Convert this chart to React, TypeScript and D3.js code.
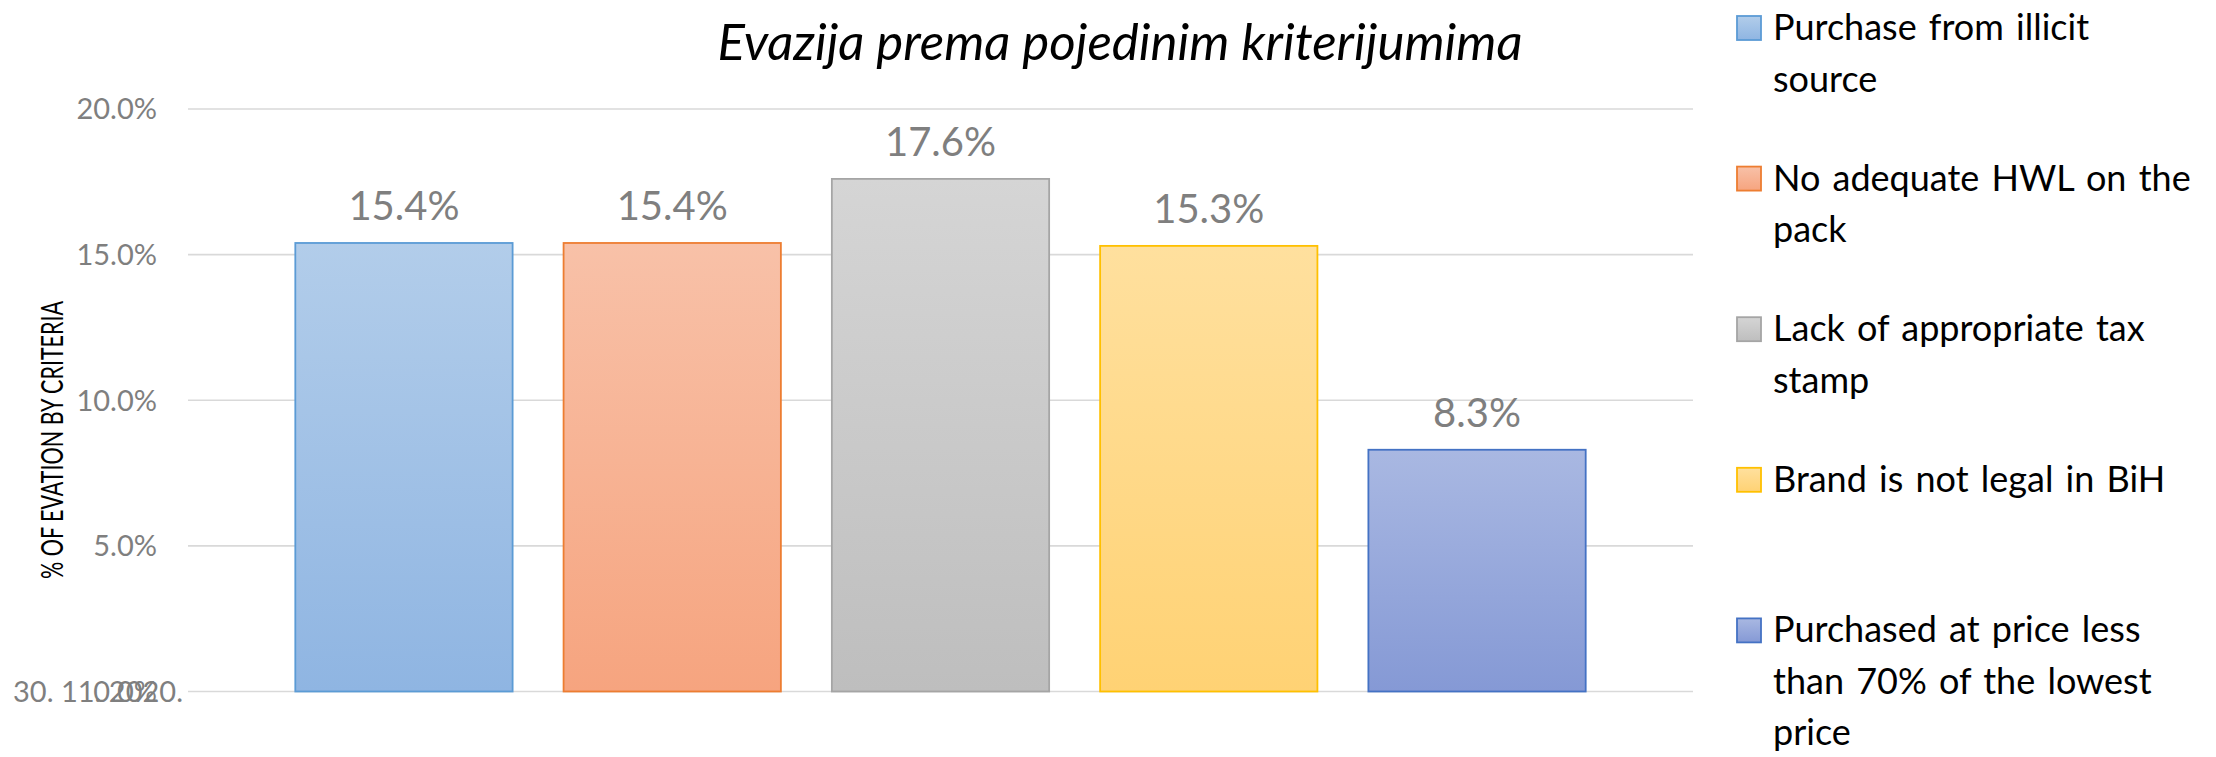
import React from "react";
import * as d3 from "d3";

const categories = [
  "Purchase from illicit source",
  "No adequate HWL on the pack",
  "Lack of appropriate tax stamp",
  "Brand is not legal in BiH",
  "Purchased at price less than 70% of the lowest price",
];
const values = [15.4, 15.4, 17.6, 15.3, 8.3];
const legendLines = [
  ["Purchase from illicit", "source"],
  ["No adequate HWL on the", "pack"],
  ["Lack of appropriate tax", "stamp"],
  ["Brand is not legal in BiH"],
  ["Purchased at price less", "than 70% of the lowest", "price"],
];
const yTicks = [5, 10, 15, 20];
const title = "Evazija prema pojedinim kriterijumima";
const yTitle = "% OF EVATION BY CRITERIA";
const zeroLabel = "0.0%";
const dateLabel = "30. 11. 2020.";

const strokes = ["#5b9bd5", "#ed7d31", "#a5a5a5", "#ffc000", "#4472c4"];
const topFill = ["#b2cdea", "#f8c1a8", "#d5d5d5", "#ffe09e", "#a9b8e2"];
const botFill = ["#8fb5e2", "#f6a47f", "#bebebe", "#ffd274", "#8599d5"];

const W = 2216;
const H = 757;
const FONT = "Lato, 'Open Sans', sans-serif";

export default function App() {
  const plotL = 188;
  const plotR = 1693;
  const y0 = 691.5;
  const yTop = 109;

  const x = d3
    .scaleBand<string>()
    .domain(categories)
    .range([plotL, plotR])
    .paddingInner(0.19)
    .paddingOuter(0.4);
  const y = d3.scaleLinear().domain([0, 20]).range([y0, yTop]);
  const fmt = d3.format(".1f");

  const legX = 1737;
  const legBase0 = 40;
  const legStep = 150.6;
  const legLine = 51.5;

  return (
    <svg
      width={W}
      height={H}
      style={{ position: "absolute", left: 0, top: 0, background: "#fff" }}
      fontFamily={FONT}
    >
      <defs>
        {categories.map((c, i) => (
          <linearGradient key={c} id={`g${i}`} x1="0" y1="0" x2="0" y2="1">
            <stop offset="0%" stopColor={topFill[i]} />
            <stop offset="100%" stopColor={botFill[i]} />
          </linearGradient>
        ))}
      </defs>
      <rect x={0} y={0} width={W} height={H} fill="#fff" />

      {/* title */}
      <text
        x={1120}
        y={60}
        textAnchor="middle"
        fontSize={51}
        fontStyle="italic"
        fontWeight={400}
        fill="#000"
      >
        {title}
      </text>

      {/* gridlines */}
      {[0, ...yTicks].map((t) => (
        <line
          key={t}
          x1={plotL}
          x2={plotR}
          y1={y(t)}
          y2={y(t)}
          stroke="#d9d9d9"
          strokeWidth={1.6}
        />
      ))}

      {/* tick labels */}
      {yTicks.map((t) => (
        <text
          key={t}
          x={157}
          y={y(t)}
          dy="0.36em"
          textAnchor="end"
          fontSize={29}
          fill="#7f7f7f"
        >
          {fmt(t) + "%"}
        </text>
      ))}
      <text x={183} y={y(0)} dy="0.36em" textAnchor="end" fontSize={29} fill="#7f7f7f">
        {dateLabel}
      </text>
      <text x={157} y={y(0)} dy="0.36em" textAnchor="end" fontSize={29} fill="#7f7f7f">
        {zeroLabel}
      </text>

      {/* y title */}
      <text
        transform={`translate(63,440) rotate(-90)`}
        textAnchor="middle"
        fontSize={30}
        fill="#000"
        textLength={278}
        lengthAdjust="spacingAndGlyphs"
      >
        {yTitle}
      </text>

      {/* bars */}
      {categories.map((c, i) => (
        <g key={c}>
          <rect
            x={x(c)!}
            y={y(values[i])}
            width={x.bandwidth()}
            height={y0 - y(values[i])}
            fill={`url(#g${i})`}
            stroke={strokes[i]}
            strokeWidth={1.8}
          />
          <text
            x={x(c)! + x.bandwidth() / 2}
            y={y(values[i]) - 23}
            textAnchor="middle"
            fontSize={40}
            fill="#7f7f7f"
          >
            {fmt(values[i]) + "%"}
          </text>
        </g>
      ))}

      {/* legend */}
      {legendLines.map((lines, i) => {
        const base = legBase0 + i * legStep;
        return (
          <g key={i}>
            <rect
              x={legX}
              y={base - 24}
              width={24}
              height={24}
              fill={`url(#g${i})`}
              stroke={strokes[i]}
              strokeWidth={1.8}
            />
            {lines.map((ln, j) => (
              <text
                key={j}
                x={1773}
                y={base + j * legLine}
                fontSize={36}
                wordSpacing={3}
                fill="#000"
              >
                {ln}
              </text>
            ))}
          </g>
        );
      })}
    </svg>
  );
}
